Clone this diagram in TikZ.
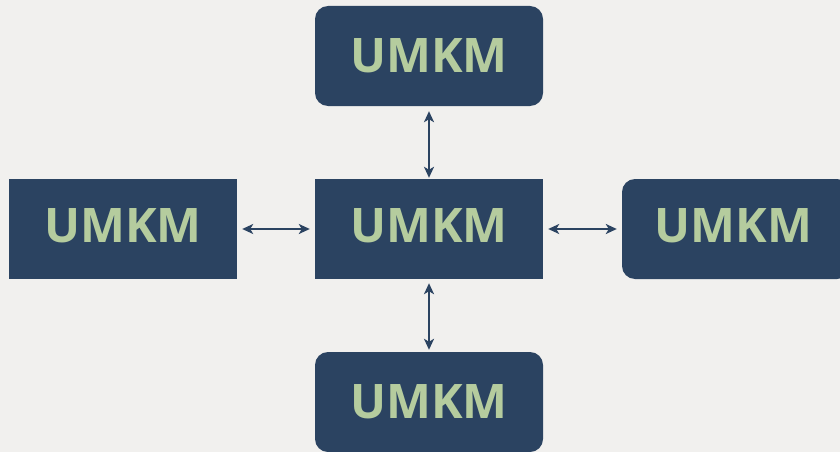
\documentclass[tikz,border=0pt]{standalone}
\usepackage{fontspec}
\setsansfont{Open Sans}
\usetikzlibrary{arrows.meta}
\definecolor{paper}{HTML}{F1F0EE}
\definecolor{navy}{HTML}{2B4361}
\definecolor{sage}{HTML}{B5CC9E}
\tikzset{
  box/.style={fill=navy, draw=none, inner sep=0pt, minimum width=228pt, minimum height=100pt},
  roundbox/.style={box, rounded corners=13pt},
  lbl/.style={text=sage, inner sep=0pt, text height=34pt, text depth=0pt,
    font=\sffamily\bfseries\fontsize{47.6}{50}\selectfont},
  link/.style={navy, line width=2pt,
    {Stealth[length=11pt,width=10pt,inset=3pt]}-{Stealth[length=11pt,width=10pt,inset=3pt]}}
}
\begin{document}
\begin{tikzpicture}[x=1pt,y=-1pt]
  \fill[paper] (0,0) rectangle (840,452);
  \useasboundingbox (0,0) rectangle (840,452);
  \clip (0,0) rectangle (840,452);

  % boxes
  \node[box]      (mid)    at (429,229) {};
  \node[box]      (left)   at (123,229) {};
  \node[roundbox] (top)    at (429,56)  {};
  \node[roundbox] (right)  at (736,229) {};
  \node[roundbox] (bottom) at (429,402) {};

  % labels
  \node[lbl] at ([yshift=4pt]mid.center)    {UMKM};
  \node[lbl] at ([yshift=4pt]left.center)   {UMKM};
  \node[lbl] at ([yshift=1pt]top.center)    {UMKM};
  \node[lbl] at ([xshift=-2.5pt,yshift=4pt]right.center)  {UMKM};
  \node[lbl] at ([yshift=1pt]bottom.center) {UMKM};

  % two-way links
  \draw[link, shorten <=5pt, shorten >=5pt] (left.east)  -- (mid.west);
  \draw[link, shorten <=5pt, shorten >=5pt] (mid.east)   -- (right.west);
  \draw[link, shorten <=5pt, shorten >=1pt] (top.south)  -- (mid.north);
  \draw[link, shorten <=4pt, shorten >=2pt] (mid.south)  -- (bottom.north);
\end{tikzpicture}
\end{document}
